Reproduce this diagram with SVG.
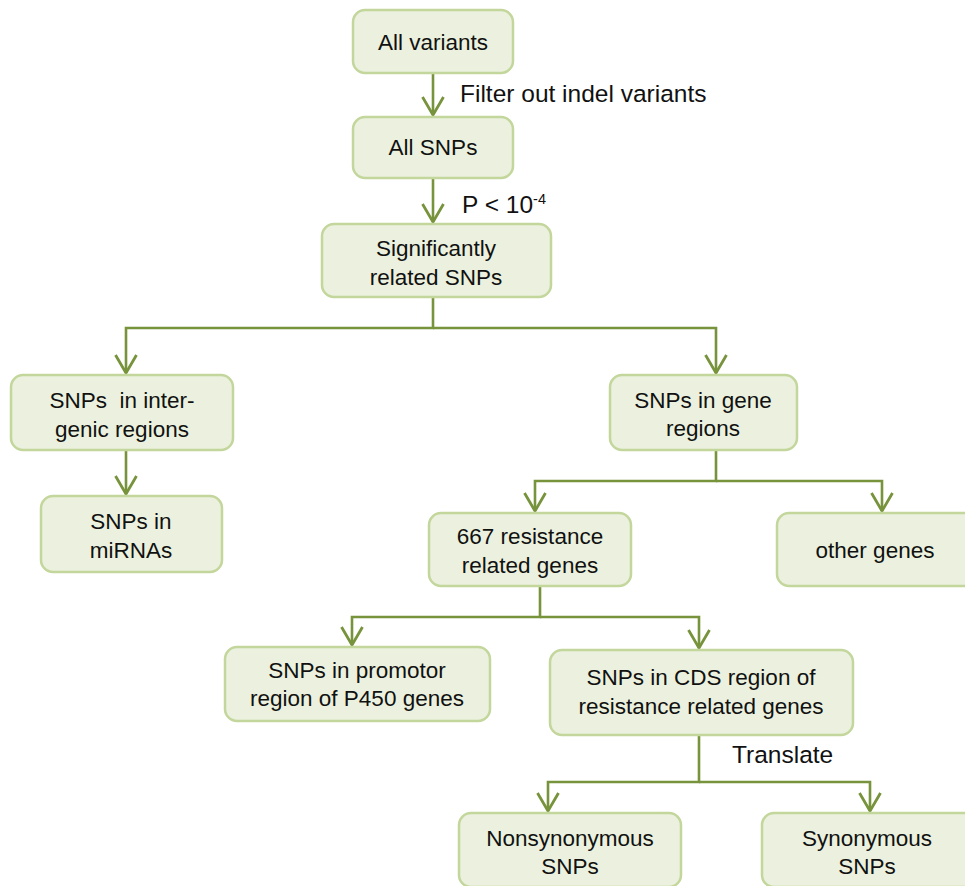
<svg xmlns="http://www.w3.org/2000/svg" width="965" height="886" viewBox="0 0 965 886">
<defs>
<style>
.box{fill:#ebf1de;stroke:#c3d69b;stroke-width:2.5}
.t{font-family:"Liberation Sans",Arial,sans-serif;font-size:22.5px;fill:#111;text-anchor:middle}
.lbl{font-family:"Liberation Sans",Arial,sans-serif;font-size:24.5px;fill:#111}
.c{fill:none;stroke:#77933c;stroke-width:2.6}
</style>
<marker id="ah" markerUnits="userSpaceOnUse" markerWidth="30" markerHeight="30" refX="0" refY="0" orient="auto" overflow="visible">
<path d="M-18,-10.5 L0,0 L-18,10.5" fill="none" stroke="#77933c" stroke-width="2.8" stroke-linejoin="miter"/>
</marker>
</defs>
<rect width="965" height="886" fill="#fff"/>
<g id="connectors">
<path class="c" d="M433,73 V115" marker-end="url(#ah)"/>
<path class="c" d="M433,178 V222" marker-end="url(#ah)"/>
<path class="c" d="M433,297 V328 H126 V373" marker-end="url(#ah)"/>
<path class="c" d="M433,328 H716 V373" marker-end="url(#ah)"/>
<path class="c" d="M126,450 V494" marker-end="url(#ah)"/>
<path class="c" d="M716,450 V481 H535 V511" marker-end="url(#ah)"/>
<path class="c" d="M716,481 H882 V511" marker-end="url(#ah)"/>
<path class="c" d="M540,586 V617 H352 V645" marker-end="url(#ah)"/>
<path class="c" d="M540,617 H699 V648" marker-end="url(#ah)"/>
<path class="c" d="M699,735 V782 H548 V811" marker-end="url(#ah)"/>
<path class="c" d="M699,782 H870 V811" marker-end="url(#ah)"/>
<text class="lbl" x="460" y="102">Filter out indel variants</text>
<text class="lbl" x="462" y="213" font-size="22">P &lt; 10<tspan dy="-9" font-size="14.5">-4</tspan></text>
<text class="lbl" x="732" y="763">Translate</text>
</g>
<g id="n-all-variants"><rect class="box" x="353" y="10" width="160" height="63" rx="12"/><text class="t" x="433" y="50">All variants</text></g>
<g id="n-all-snps"><rect class="box" x="353" y="117" width="160" height="61" rx="12"/><text class="t" x="433" y="155">All SNPs</text></g>
<g id="n-significant"><rect class="box" x="322" y="224" width="229" height="73" rx="12"/><text class="t" x="436" y="256">Significantly</text><text class="t" x="436" y="285">related SNPs</text></g>
<g id="n-intergenic"><rect class="box" x="11" y="375" width="222" height="75" rx="12"/><text class="t" x="122" y="408" style="white-space:pre">SNPs  in inter-</text><text class="t" x="122" y="437">genic regions</text></g>
<g id="n-mirnas"><rect class="box" x="41" y="496" width="181" height="76" rx="12"/><text class="t" x="131" y="529">SNPs in</text><text class="t" x="131" y="558">miRNAs</text></g>
<g id="n-gene-regions"><rect class="box" x="610" y="375" width="187" height="75" rx="12"/><text class="t" x="703" y="408">SNPs in gene</text><text class="t" x="703" y="436">regions</text></g>
<g id="n-667"><rect class="box" x="429" y="513" width="202" height="73" rx="12"/><text class="t" x="530" y="544">667 resistance</text><text class="t" x="530" y="573">related genes</text></g>
<g id="n-other"><rect class="box" x="777" y="513" width="200" height="73" rx="12"/><text class="t" x="875" y="558">other genes</text></g>
<g id="n-promotor"><rect class="box" x="225" y="647" width="265" height="74" rx="12"/><text class="t" x="357" y="678">SNPs in promotor</text><text class="t" x="357" y="706">region of P450 genes</text></g>
<g id="n-cds"><rect class="box" x="550" y="650" width="303" height="85" rx="12"/><text class="t" x="701" y="685">SNPs in CDS region of</text><text class="t" x="701" y="714">resistance related genes</text></g>
<g id="n-nonsyn"><rect class="box" x="459" y="813" width="222" height="74" rx="12"/><text class="t" x="570" y="846">Nonsynonymous</text><text class="t" x="570" y="874">SNPs</text></g>
<g id="n-syn"><rect class="box" x="762" y="813" width="215" height="74" rx="12"/><text class="t" x="867" y="846">Synonymous</text><text class="t" x="867" y="874">SNPs</text></g>
</svg>
